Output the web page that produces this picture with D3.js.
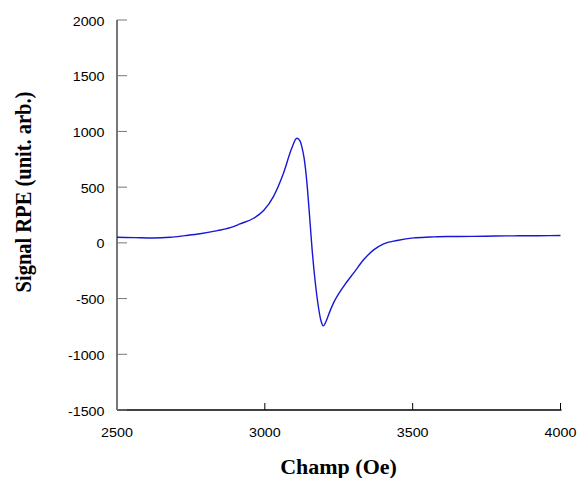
<!DOCTYPE html>
<html><head><meta charset="utf-8">
<script src="https://cdn.jsdelivr.net/npm/d3@7"></script>
<style>body{margin:0;background:#fff}svg{display:block}</style>
</head><body>
<script>
const fieldOe = [2500,2560,2620,2680,2730,2781,2840,2894,2916,2962,2996,3029,3063,3091,3108,3119,3125,3133,3142,3151,3160,3170,3181,3189,3198,3209,3220,3232,3266,3300,3334,3368,3402,3447,3503,3560,3616,3700,3780,3842,3920,4000];
const signal = [50,47,44,50,65,82,110,146,170,221,290,415,625,849,939,915,864,759,550,251,-63,-340,-571,-690,-744,-692,-615,-541,-392,-272,-152,-63,-9,21,45,52,57,58,61,63,64,66];
const xTicks = [2500,3000,3500,4000];
const yTicks = [-1500,-1000,-500,0,500,1000,1500,2000];
const xTitle = "Champ (Oe)";
const yTitle = "Signal RPE (unit. arb.)";

const W=577,H=478;
const svg=d3.select("body").append("svg").attr("width",W).attr("height",H);
const x=d3.scaleLinear().domain([2500,4000]).range([117,560.5]);
const y=d3.scaleLinear().domain([-1500,2000]).range([410,20]);
const sans="Liberation Sans, Arial, sans-serif", serif="Liberation Serif, Times New Roman, serif";

// x axis
const gx=svg.append("g").attr("transform","translate(0,410)");
gx.append("line").attr("x1",x(2500)).attr("x2",x(4000)+1).attr("stroke","#000").attr("stroke-width",1.3);
gx.selectAll("line.t").data(xTicks.slice(1)).join("line").attr("class","t")
  .attr("x1",d=>x(d)).attr("x2",d=>x(d)).attr("y1",0).attr("y2",-7).attr("stroke","#000").attr("stroke-width",1);
gx.selectAll("text").data(xTicks).join("text")
  .attr("transform",d=>`translate(${x(d)},26.5) scale(1.1,1)`).attr("text-anchor","middle")
  .attr("font-family",sans).attr("font-size",13).text(d=>d);

// y axis
const gy=svg.append("g").attr("transform","translate(117,0)");
gy.append("line").attr("y1",y(2000)).attr("y2",y(-1500)).attr("stroke","#777").attr("stroke-width",2);
gy.selectAll("line.t").data(yTicks).join("line").attr("class","t")
  .attr("x1",0).attr("x2",10).attr("y1",d=>y(d)).attr("y2",d=>y(d)).attr("stroke","#777").attr("stroke-width",1);
gy.selectAll("text").data(yTicks).join("text")
  .attr("transform",d=>`translate(-12.5,${y(d)+5.5}) scale(1.1,1)`).attr("text-anchor","end")
  .attr("font-family",sans).attr("font-size",13).text(d=>d);

// line
const pts=fieldOe.map((f,i)=>[f,signal[i]]);
svg.append("path").datum(pts)
  .attr("d",d3.line().x(d=>x(d[0])).y(d=>y(d[1])).curve(d3.curveMonotoneX))
  .attr("fill","none").attr("stroke","#1717d6").attr("stroke-width",1.4);

// titles
svg.append("text").attr("transform","translate(338.5,474) scale(1.1,1)").attr("text-anchor","middle")
  .attr("font-family",serif).attr("font-weight","bold").attr("font-size",20).text(xTitle);
svg.append("text").attr("transform","translate(31,192) rotate(-90) scale(1,1.1)").attr("text-anchor","middle")
  .attr("font-family",serif).attr("font-weight","bold").attr("font-size",20.5).text(yTitle);
</script>
</body></html>
